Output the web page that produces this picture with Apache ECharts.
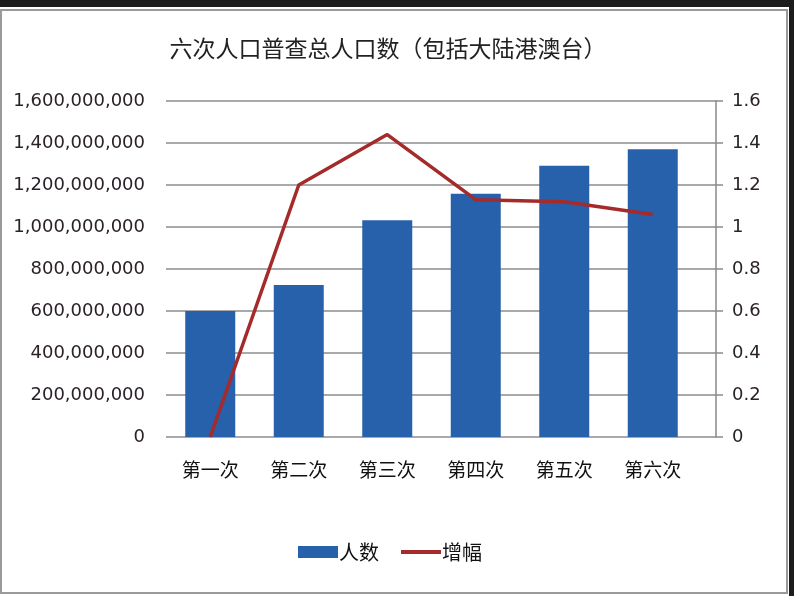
<!DOCTYPE html>
<html>
<head>
<meta charset="utf-8">
<script src="https://cdn.jsdelivr.net/npm/echarts@6/dist/echarts.min.js"></script>
<style>
html,body{margin:0;padding:0;background:#fff;}
#c{width:794px;height:596px;}
</style>
</head>
<body>
<div id="c"></div>
<script>
var categories = ['第一次', '第二次', '第三次', '第四次', '第五次', '第六次'];
var population = [600000000, 724000000, 1032000000, 1158000000, 1292000000, 1370000000];
var growth = [0, 1.2, 1.44, 1.13, 1.12, 1.06];
var leftMin = 0, leftMax = 1600000000, leftStep = 200000000;
var rightMin = 0, rightMax = 1.6, rightStep = 0.2;

var cjk = '"Noto Sans CJK SC", sans-serif';
var num = '"DejaVu Sans", sans-serif';

function commas(v) {
  return String(Math.round(v)).replace(/\B(?=(\d{3})+(?!\d))/g, ',');
}

var chart = echarts.init(document.getElementById('c'), null, {renderer: 'canvas'});
chart.setOption({
  backgroundColor: '#ffffff',
  animation: false,
  graphic: [
    {type: 'rect', silent: true, z: -10, shape: {x: 0, y: 0, width: 794, height: 7}, style: {fill: '#1c1c1c'}},
    {type: 'rect', silent: true, z: -10, shape: {x: 789, y: 0, width: 5, height: 596}, style: {fill: '#1c1c1c'}},
    {type: 'rect', silent: true, z: -9, shape: {x: 1, y: 10, width: 786, height: 583}, style: {fill: 'none', stroke: '#9a9a9a', lineWidth: 2}}
  ],
  title: {
    text: '六次人口普查总人口数（包括大陆港澳台）',
    left: 383,
    textAlign: 'center',
    top: 32,
    textStyle: {fontFamily: cjk, fontSize: 23, fontWeight: 'normal', color: '#222'}
  },
  legend: {
    left: 293,
    top: 537,
    itemWidth: 40,
    itemHeight: 12,
    itemGap: 20,
    textStyle: {fontFamily: cjk, fontSize: 20, color: '#111', padding: [0, 0, 0, -4]},
    data: [
      {name: '人数', icon: 'rect'},
      {name: '增幅', itemStyle: {color: 'rgba(0,0,0,0)', borderWidth: 0}, lineStyle: {width: 4, color: '#a52a2a'}}
    ]
  },
  grid: [
    {left: 166, right: 97, top: 101, bottom: 159},
    {left: 166, right: 78, top: 101, bottom: 159}
  ],
  xAxis: [
    {
      type: 'category',
      gridIndex: 0,
      data: categories,
      axisLine: {show: false},
      axisTick: {show: false},
      axisLabel: {margin: 23, fontFamily: cjk, fontSize: 19, color: '#111'}
    },
    {
      type: 'category',
      gridIndex: 1,
      data: categories,
      show: false
    }
  ],
  yAxis: [
    {
      type: 'value',
      gridIndex: 0,
      min: leftMin, max: leftMax, interval: leftStep,
      axisLine: {show: false},
      axisTick: {show: false},
      splitLine: {show: false},
      axisLabel: {margin: 21, fontFamily: num, fontSize: 18, color: '#2a2228', formatter: commas}
    },
    {
      type: 'value',
      gridIndex: 0,
      position: 'right',
      offset: 19,
      min: rightMin, max: rightMax, interval: rightStep,
      axisLine: {show: true, lineStyle: {color: '#8a8a8a', width: 1.5}},
      axisTick: {show: true, inside: false, length: 7, lineStyle: {color: '#8a8a8a', width: 1.5}},
      splitLine: {show: false},
      axisLabel: {margin: 16, fontFamily: num, fontSize: 18, color: '#2a2228'}
    },
    {
      type: 'value',
      gridIndex: 1,
      min: leftMin, max: leftMax, interval: leftStep,
      axisLine: {show: false},
      axisTick: {show: false},
      axisLabel: {show: false},
      splitLine: {show: true, lineStyle: {color: '#8c8c8c', width: 1.5}}
    }
  ],
  series: [
    {
      name: '人数',
      type: 'bar',
      xAxisIndex: 0,
      yAxisIndex: 0,
      data: population,
      barWidth: 50,
      itemStyle: {color: '#2760ab'},
      z: 2
    },
    {
      name: '增幅',
      type: 'line',
      xAxisIndex: 0,
      yAxisIndex: 1,
      data: growth,
      symbol: 'none',
      lineStyle: {color: '#a52a2a', width: 3.5},
      itemStyle: {color: '#a52a2a'},
      z: 3
    }
  ]
});
</script>
</body>
</html>
